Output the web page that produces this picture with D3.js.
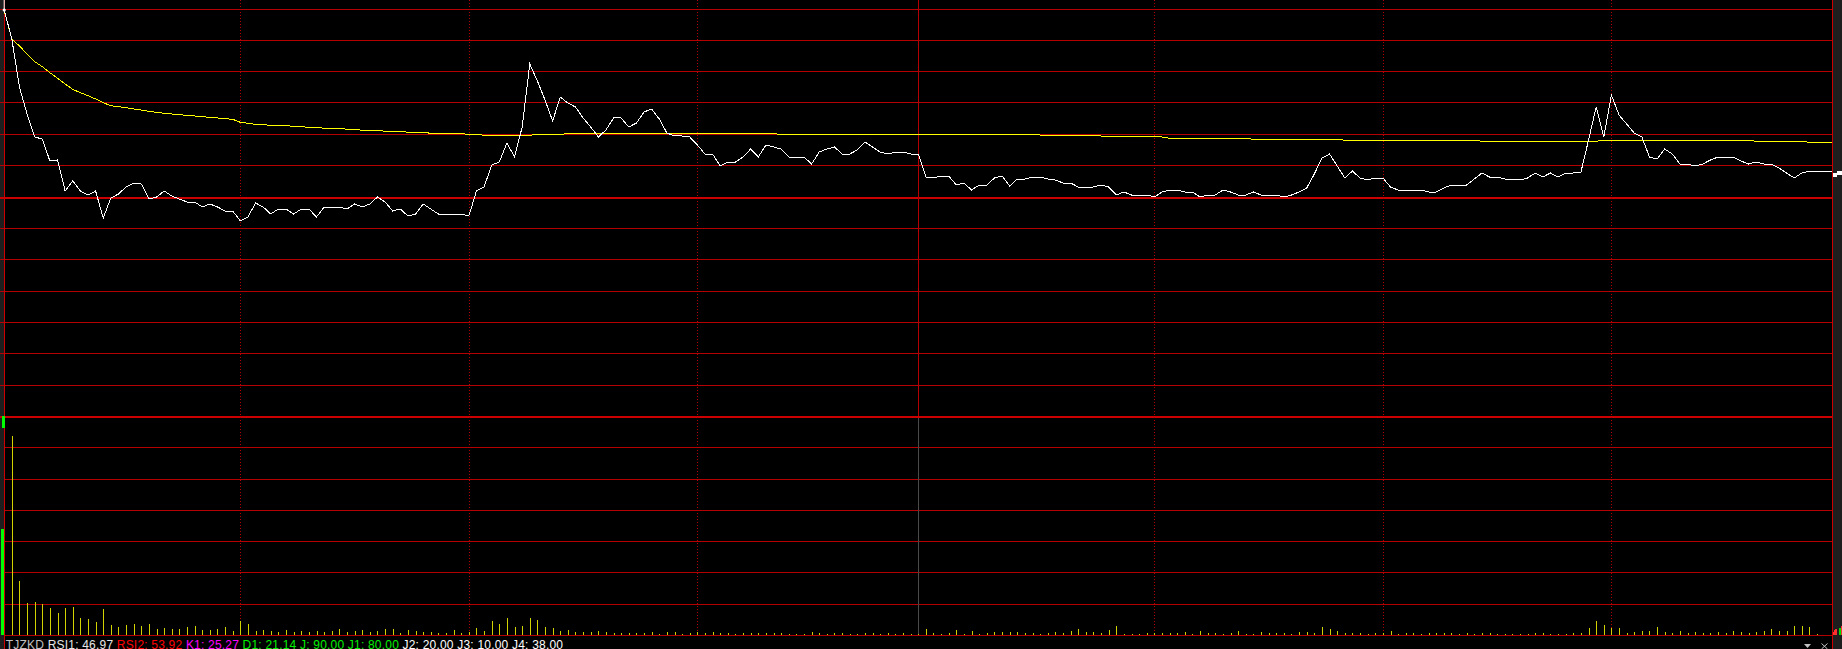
<!DOCTYPE html>
<html><head><meta charset="utf-8">
<script src="https://cdn.jsdelivr.net/npm/d3@7"></script>
<style>html,body{margin:0;padding:0;background:#000;overflow:hidden}svg{display:block}</style>
</head><body><svg id="c" width="1842" height="649"></svg>
<script>
// ---------------- data ----------------
const prevClose = 20.00;
const gridStep = 0.31333;           // price per horizontal grid interval
const priceGridSteps = 6;           // intervals above / below previous close
const openTickHigh = 21.97;         // opening auction tick (above panel top)
const prices = [
 21.87,21.58,21.10,20.83,20.60,20.58,20.36,20.37,20.06,20.16,
 20.06,20.02,20.06,19.79,19.99,20.03,20.10,20.14,20.13,19.98,
 20.00,20.06,20.01,19.98,19.95,19.95,19.90,19.93,19.90,19.86,
 19.86,19.76,19.80,19.94,19.90,19.83,19.88,19.88,19.83,19.88,
 19.88,19.80,19.90,19.90,19.90,19.88,19.93,19.90,19.93,20.00,
 19.95,19.86,19.88,19.81,19.83,19.93,19.88,19.83,19.83,19.83,
 19.83,19.81,20.06,20.10,20.32,20.35,20.54,20.40,20.70,21.33,
 21.16,20.97,20.76,21.00,20.94,20.90,20.79,20.70,20.60,20.67,
 20.79,20.79,20.70,20.74,20.85,20.88,20.78,20.64,20.61,20.61,
 20.60,20.52,20.43,20.43,20.31,20.35,20.35,20.40,20.48,20.40,
 20.52,20.50,20.48,20.40,20.40,20.40,20.33,20.45,20.48,20.50,
 20.43,20.43,20.47,20.55,20.50,20.45,20.43,20.45,20.45,20.43,
 20.43,20.20,20.19,20.21,20.21,20.12,20.14,20.07,20.12,20.12,
 20.19,20.21,20.11,20.18,20.18,20.20,20.20,20.18,20.17,20.14,
 20.14,20.10,20.10,20.10,20.12,20.10,20.02,20.05,20.02,20.02,
 20.02,20.00,20.05,20.07,20.07,20.05,20.05,20.00,20.02,20.02,
 20.07,20.05,20.02,20.02,20.05,20.02,20.02,20.02,20.00,20.02,
 20.05,20.09,20.23,20.39,20.43,20.31,20.19,20.26,20.19,20.17,
 20.19,20.19,20.10,20.07,20.07,20.07,20.07,20.05,20.05,20.09,
 20.12,20.12,20.12,20.18,20.24,20.20,20.20,20.18,20.18,20.17,
 20.19,20.24,20.20,20.24,20.20,20.24,20.24,20.25,20.57,20.90,
 20.60,21.02,20.82,20.73,20.64,20.60,20.40,20.38,20.48,20.43,
 20.33,20.33,20.31,20.33,20.37,20.40,20.40,20.40,20.36,20.33,
 20.35,20.33,20.33,20.29,20.24,20.19,20.24,20.26,20.26,20.26,
 20.26
];
const avgPrices = [
 21.865,21.58,21.51,21.43,21.353,21.303,21.243,21.187,21.13,21.077,
 21.043,21.013,20.98,20.943,20.913,20.903,20.893,20.88,20.87,20.857,
 20.847,20.837,20.83,20.823,20.817,20.81,20.803,20.797,20.79,20.783,
 20.777,20.747,20.737,20.727,20.723,20.717,20.717,20.717,20.703,20.703,
 20.697,20.697,20.687,20.687,20.687,20.677,20.677,20.667,20.667,20.667,
 20.657,20.657,20.657,20.647,20.647,20.647,20.637,20.637,20.637,20.637,
 20.633,20.627,20.627,20.617,20.617,20.61,20.61,20.61,20.61,20.617,
 20.627,20.627,20.627,20.627,20.633,20.633,20.633,20.633,20.633,20.633,
 20.633,20.633,20.633,20.633,20.633,20.633,20.633,20.633,20.633,20.633,
 20.633,20.633,20.633,20.633,20.633,20.633,20.633,20.633,20.633,20.633,
 20.633,20.633,20.627,20.627,20.627,20.627,20.627,20.627,20.627,20.627,
 20.627,20.627,20.627,20.627,20.627,20.627,20.627,20.627,20.627,20.627,
 20.627,20.627,20.627,20.627,20.627,20.627,20.627,20.62,20.62,20.62,
 20.62,20.62,20.62,20.62,20.62,20.62,20.62,20.61,20.61,20.61,
 20.61,20.61,20.61,20.61,20.61,20.60,20.60,20.60,20.60,20.60,
 20.60,20.60,20.60,20.587,20.587,20.587,20.587,20.587,20.587,20.587,
 20.587,20.587,20.587,20.587,20.577,20.577,20.577,20.577,20.577,20.577,
 20.577,20.577,20.577,20.577,20.577,20.577,20.567,20.567,20.567,20.567,
 20.567,20.567,20.567,20.567,20.567,20.567,20.567,20.567,20.567,20.567,
 20.567,20.567,20.567,20.567,20.557,20.557,20.557,20.557,20.557,20.557,
 20.557,20.557,20.557,20.557,20.557,20.557,20.557,20.557,20.557,20.557,
 20.567,20.567,20.567,20.567,20.567,20.567,20.567,20.567,20.567,20.567,
 20.567,20.567,20.567,20.567,20.567,20.567,20.567,20.567,20.567,20.567,
 20.557,20.557,20.557,20.557,20.557,20.557,20.557,20.547,20.547,20.547,
 20.547
];
const volumes = [
 107,200,54,32,33,31,27,22,27,28,
 17,16,13,26,10,8,10,11,9,11,
 6,7,6,6,8,9,5,5,6,8,
 4,14,11,4,5,4,3,5,3,4,
 3,4,3,4,6,3,4,5,3,4,
 6,6,2,5,4,3,3,2,2,5,
 2,3,7,4,14,11,17,8,9,17,
 15,8,7,4,5,3,3,3,4,3,
 2,2,2,2,2,3,1,3,3,1,
 2,3,2,3,2,2,1,2,2,2,
 2,2,2,1,1,1,3,2,1,2,
 2,1,1,2,2,1,2,1,2,1,
 1,6,2,1,2,5,1,4,1,2,
 3,3,3,3,2,2,1,2,3,2,
 4,6,3,3,2,5,9,1,1,1,
 2,2,2,2,2,3,1,4,2,2,
 1,2,4,1,1,3,2,2,2,1,
 3,3,2,8,6,4,2,2,2,1,
 2,2,4,1,2,2,1,2,2,2,
 2,1,2,1,2,2,1,1,1,1,
 1,2,2,1,1,1,2,2,7,14,
 10,7,7,2,3,4,4,8,3,2,
 4,2,3,2,2,3,2,4,3,2,
 3,4,6,4,4,9,9,8,1,0,
 0
];
const volGridSteps = 7;
const volPerGrid = 31.33;
const dottedMinutes = [31, 61, 91, 151, 181, 211];
const middayMinute = 120;
const lastMinute = 240;
const legendNames  = ["TJZKD", "RSI1", "RSI2", "K1", "D1", "J", "J1", "J2", "J3", "J4"];
const legendValues = [null, 46.97, 53.92, 25.27, 21.14, 90.00, 80.00, 20.00, 10.00, 38.00];

// ---------------- layout / style ----------------
const W = 1842, H = 649;
const left = 4.2, right = 1832.3;
const priceTop = 9, priceBottom = 385;
const volTop = 416.7, volBottom = 635.3;
const gridRed = "#b40000", thickRed = "#cc0000";
const legendColors = ["#c0c0c0","#e6e6e6","#ff0000","#ff00ff","#00f000","#00f000","#00f000","#ffffff","#ffffff","#ffffff"];

const svg = d3.select("#c");
svg.append("rect").attr("width", W).attr("height", H).attr("fill", "#000");

const x = d3.scaleLinear().domain([0, lastMinute]).range([left, right]);
const y = d3.scaleLinear()
  .domain([prevClose - priceGridSteps * gridStep, prevClose + priceGridSteps * gridStep])
  .range([priceBottom, priceTop]);
const yv = d3.scaleLinear().domain([0, volGridSteps * volPerGrid]).range([volBottom, volTop]);

// side strips
svg.append("rect").attr("x", 0).attr("y", 0).attr("width", 4).attr("height", H).attr("fill", "#1e1e1e");
svg.append("rect").attr("x", 1833).attr("y", 0).attr("width", 9).attr("height", H).attr("fill", "#1e1e1e");

const grid = svg.append("g").attr("shape-rendering", "crispEdges");
// price grid
const priceLevels = d3.range(-priceGridSteps, priceGridSteps + 1).map(k => prevClose + k * gridStep);
priceLevels.forEach(p => {
  const yy = y(p);
  const isMid = Math.abs(p - prevClose) < 1e-6;
  grid.append("line")
    .attr("x1", 0).attr("x2", right)
    .attr("y1", isMid ? 198 : Math.floor(yy) + 0.5)
    .attr("y2", isMid ? 198 : Math.floor(yy) + 0.5)
    .attr("stroke", isMid ? thickRed : gridRed)
    .attr("stroke-width", isMid ? 2 : 1);
});
// volume grid
d3.range(0, volGridSteps + 1).forEach(k => {
  const yy = yv(k * volPerGrid);
  const isTop = k === volGridSteps;
  grid.append("line")
    .attr("x1", isTop ? 0 : left).attr("x2", right)
    .attr("y1", isTop ? 417 : Math.floor(yy) + 0.5)
    .attr("y2", isTop ? 417 : Math.floor(yy) + 0.5)
    .attr("stroke", isTop ? thickRed : gridRed)
    .attr("stroke-width", isTop ? 2 : 1);
});
// vertical time lines
dottedMinutes.forEach(m => {
  grid.append("line")
    .attr("x1", Math.round(x(m)) + 0.5).attr("x2", Math.round(x(m)) + 0.5)
    .attr("y1", 0).attr("y2", 635)
    .attr("stroke", gridRed).attr("stroke-dasharray", "1,2");
});
grid.append("line")
  .attr("x1", Math.round(x(middayMinute)) + 0.5).attr("x2", Math.round(x(middayMinute)) + 0.5)
  .attr("y1", 0).attr("y2", 416).attr("stroke", gridRed);
grid.append("line")
  .attr("x1", Math.round(x(middayMinute)) + 0.5).attr("x2", Math.round(x(middayMinute)) + 0.5)
  .attr("y1", 418).attr("y2", 635).attr("stroke", "#4a4a4a");
// frame verticals
grid.append("line").attr("x1", 4.5).attr("x2", 4.5).attr("y1", 0).attr("y2", H).attr("stroke", thickRed);
grid.append("line").attr("x1", 1832.5).attr("x2", 1832.5).attr("y1", 0).attr("y2", H).attr("stroke", thickRed);

// volume bars
const bars = svg.append("g").attr("shape-rendering", "crispEdges");
bars.selectAll("rect.v").data(volumes).join("rect")
  .attr("class", "v")
  .attr("x", (d, i) => i === 0 ? 1 : Math.round(x(i)))
  .attr("width", (d, i) => i === 0 ? 3 : 1)
  .attr("y", d => yv(d))
  .attr("height", d => Math.max(0, 635 - yv(d)))
  .attr("fill", (d, i) => i === 0 ? "#00ff00" : "#d2d200");
bars.append("rect").attr("x", 2).attr("y", 416).attr("width", 3).attr("height", 12).attr("fill", "#00ff00");

// average line
svg.append("path").datum(avgPrices)
  .attr("fill", "none").attr("stroke", "#ffff00").attr("stroke-width", 1)
  .attr("shape-rendering", "crispEdges")
  .attr("d", d3.line().x((d, i) => x(i)).y(d => y(d)));

// price line
svg.append("line")
  .attr("x1", x(0)).attr("x2", x(0)).attr("y1", y(openTickHigh)).attr("y2", y(prices[0]))
  .attr("stroke", "#fff");
svg.append("path").datum(prices)
  .attr("fill", "none").attr("stroke", "#ffffff").attr("stroke-width", 1)
  .attr("shape-rendering", "crispEdges")
  .attr("d", d3.line().x((d, i) => x(i)).y(d => y(d)));
svg.append("circle").attr("cx", x(0)).attr("cy", y(prices[0])).attr("r", 1.6).attr("fill", "#fff");

// last price marker in right strip
const ly = y(prices[lastMinute]);
svg.append("path")
  .attr("d", `M1833,${ly + 2}H1837V${ly}H1842V${ly + 4}H1837V${ly + 6}H1833Z`)
  .attr("fill", "#ffffff");

// small strip indicator at bottom-right
const stripBars = svg.append("g").attr("shape-rendering", "crispEdges");
[[1833, 3, "#ff3030"], [1834, 5, "#ff3030"], [1835, 6, "#ff3030"], [1836, 6, "#ff3030"], [1838.5, 7, "#00e000"], [1839.5, 7, "#00e000"], [1841, 9, "#ff3030"]]
  .forEach(([bx, h, c]) => stripBars.append("rect").attr("x", bx).attr("y", 635 - h).attr("width", 1).attr("height", h).attr("fill", c));

// legend text (flows left to right)
const legend = svg.append("text")
  .attr("font-family", "'Liberation Sans', Arial, sans-serif")
  .attr("font-size", 12).attr("letter-spacing", 0.2)
  .attr("x", 5.8).attr("y", 649);
legendNames.forEach((n, i) => {
  const v = legendValues[i];
  legend.append("tspan")
    .attr("fill", legendColors[i])
    .attr("xml:space", "preserve")
    .text((i > 0 ? "\u00a0" : "") + (v === null ? n : `${n}: ${v.toFixed(2)}`));
});

// bottom-right controls
svg.append("path").attr("d", "M1804,644H1811L1807.5,648Z").attr("fill", "#c0c0c0");
svg.append("path").attr("d", "M1821.5,643.5L1827.5,649M1827.5,643.5L1821.5,649")
  .attr("stroke", "#c0c0c0").attr("stroke-width", 1);
</script>
</body></html>
